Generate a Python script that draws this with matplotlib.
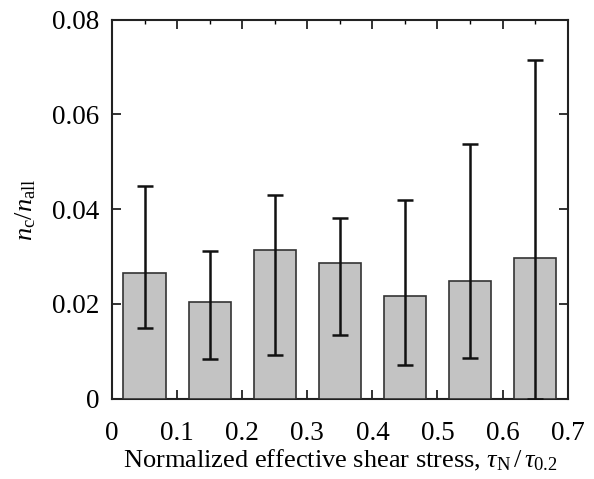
import matplotlib
matplotlib.use("Agg")
import matplotlib.pyplot as plt
import numpy as np
from matplotlib.ticker import MultipleLocator

plt.rcParams["font.family"] = ["Liberation Serif", "DejaVu Serif"]
plt.rcParams["mathtext.fontset"] = "custom"
plt.rcParams["mathtext.rm"] = "Liberation Serif"
plt.rcParams["mathtext.it"] = "Liberation Serif:italic"

# Bin centres of normalized effective shear stress
stress_bins = [0.05, 0.15, 0.25, 0.35, 0.45, 0.55, 0.65]
# Mean fraction n_c / n_all in each bin
fraction = [0.0265, 0.0204, 0.0313, 0.0287, 0.0217, 0.0249, 0.0298]
# Upper and lower limits of the error bars
upper = [0.0449, 0.0311, 0.0430, 0.0381, 0.0419, 0.0538, 0.0715]
lower = [0.0149, 0.0084, 0.0092, 0.0135, 0.0071, 0.0085, 0.0]

x_ticks = [0, 0.1, 0.2, 0.3, 0.4, 0.5, 0.6, 0.7]
x_tick_labels = ["0", "0.1", "0.2", "0.3", "0.4", "0.5", "0.6", "0.7"]
y_ticks = [0, 0.02, 0.04, 0.06, 0.08]
y_tick_labels = ["0", "0.02", "0.04", "0.06", "0.08"]

fraction_arr = np.array(fraction)
yerr = [fraction_arr - np.array(lower), np.array(upper) - fraction_arr]

fig = plt.figure(figsize=(5.94, 4.79), dpi=100)
ax = fig.add_axes([0.1886, 0.1676, 0.9557 - 0.1886, 0.9589 - 0.1676])

ax.bar(stress_bins, fraction, width=0.065, color="#c3c3c3",
       edgecolor="#333333", linewidth=1.2, zorder=3)
ax.errorbar(stress_bins, fraction, yerr=yerr, fmt="none", ecolor="#111111",
            elinewidth=1.8, capsize=5.8, capthick=1.8, zorder=4)

ax.set_xlim(0, 0.7)
ax.set_ylim(0, 0.08)
ax.set_xticks(x_ticks)
ax.set_xticklabels(x_tick_labels)
ax.xaxis.set_minor_locator(MultipleLocator(0.05))
ax.set_yticks(y_ticks)
ax.set_yticklabels(y_tick_labels)

ax.tick_params(axis="both", which="major", direction="in", length=6.5,
               width=1.3, top=True, right=True, labelsize=19.5,
               color="#222222")
ax.tick_params(axis="x", which="major", pad=16)
ax.tick_params(axis="y", which="major", pad=9)
ax.tick_params(axis="x", which="minor", direction="in", length=3,
               width=1.0, top=True, bottom=True)
for s in ax.spines.values():
    s.set_linewidth(1.5)
    s.set_color("#222222")

ax.set_xlabel(r"Normalized effective shear stress, $\tau_\mathrm{N}\,/\,\tau_{0.2}$",
              fontsize=19, labelpad=1)
ax.set_ylabel(r"$n_\mathrm{c}/n_\mathrm{all}$", fontsize=19, labelpad=10)

fig.savefig("out.png", dpi=100)
